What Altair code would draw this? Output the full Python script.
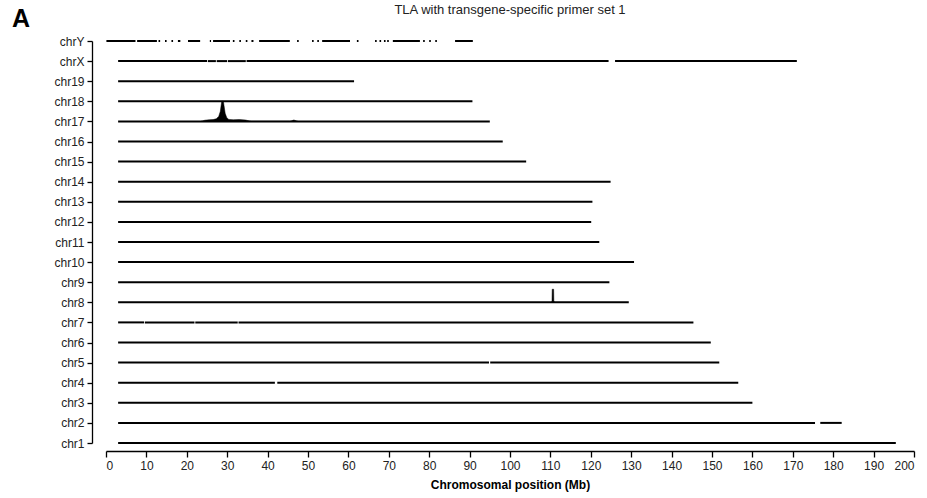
import altair as alt
import pandas as pd

# Chromosomes, bottom (index 0) to top
chrom_names = ["chr1", "chr2", "chr3", "chr4", "chr5", "chr6", "chr7", "chr8", "chr9", "chr10",
               "chr11", "chr12", "chr13", "chr14", "chr15", "chr16", "chr17", "chr18", "chr19", "chrX", "chrY"]
chrom_start = [3.0] * 20 + [0.1]
chrom_end = [195.5, 182.1, 160.0, 156.5, 151.8, 149.7, 145.4, 129.4, 124.6, 130.7,
             122.1, 120.1, 120.4, 124.9, 104.0, 98.2, 95.0, 90.7, 61.4, 171.0, 90.8]

# Visible coverage gaps (Mb) per chromosome
gaps = {
    "chr2": [(175.5, 176.8)],
    "chr4": [(41.8, 42.4)],
    "chr5": [(94.8, 95.1)],
    "chr7": [(9.4, 9.6), (21.9, 22.1), (32.6, 32.8)],
    "chrX": [(25.0, 25.2), (27.2, 27.4), (30.0, 30.2), (34.6, 34.8), (124.4, 126.0)],
}

# chrY is only sparsely covered: covered stretches (Mb)
chrY_starts = [0.1, 7.7, 13.0, 14.6, 16.2, 17.8, 20.3, 25.7, 26.5, 31.4, 33.0, 34.6, 36.0,
               37.9, 47.3, 51.0, 52.3, 53.5, 62.1, 66.6, 67.7, 68.8, 69.6, 71.0, 78.5, 80.0, 81.5, 86.4]
chrY_ends = [7.3, 12.6, 13.4, 15.0, 16.6, 18.4, 23.3, 26.0, 30.7, 31.8, 33.4, 35.0, 36.5,
             45.5, 47.7, 51.4, 52.7, 60.4, 62.5, 67.0, 68.1, 69.2, 70.0, 77.7, 78.9, 80.4, 81.9, 90.8]

# TLA signal peaks (height in row units)
chr17_pos = [23.5, 24.5, 25.5, 26.5, 27.3, 27.9, 28.3, 28.5, 28.65, 29.05, 29.2, 29.5, 29.9, 30.4,
             31.5, 33.0, 34.5, 36.0, 45.5, 46.5, 47.5]
chr17_val = [0.0, 0.06, 0.08, 0.09, 0.13, 0.25, 0.5, 0.8, 1.0, 1.0, 0.8, 0.4, 0.18, 0.1,
             0.08, 0.09, 0.07, 0.0, 0.0, 0.07, 0.0]
chr8_pos = [110.2, 110.4, 110.45, 110.8, 110.85, 111.1]
chr8_val = [0.0, 0.05, 0.65, 0.65, 0.05, 0.0]

rows = []
for i, name in enumerate(chrom_names):
    if name == "chrY":
        for s, e in zip(chrY_starts, chrY_ends):
            rows.append({"idx": i, "start": s, "end": e})
        continue
    cur = chrom_start[i]
    for gs, ge in gaps.get(name, []):
        rows.append({"idx": i, "start": cur, "end": gs})
        cur = ge
    rows.append({"idx": i, "start": cur, "end": chrom_end[i]})
seg_df = pd.DataFrame(rows)

peak_rows = []
for p, v in zip(chr17_pos, chr17_val):
    peak_rows.append({"series": "chr17", "pos": p, "y": 16 + v, "base": 16})
for p, v in zip(chr8_pos, chr8_val):
    peak_rows.append({"series": "chr8", "pos": p, "y": 7 + v, "base": 7})
peak_df = pd.DataFrame(peak_rows)

FONT = "Liberation Sans"
label_expr = "[" + ",".join(f"'{n}'" for n in chrom_names) + "][datum.value]"

xscale = alt.Scale(domain=[0, 200], nice=False, zero=False)
yscale = alt.Scale(domain=[0, 20], nice=False, zero=False)

xaxis = alt.Axis(values=list(range(0, 201, 10)), title="Chromosomal position (Mb)", grid=False,
                 offset=8, tickSize=6, tickColor="black", domainColor="black", tickWidth=1.3,
                 domainWidth=1.3, labelFont=FONT, labelFontSize=12, labelColor="#222",
                 labelPadding=3, labelOverlap=False, titleFont=FONT, titleFontSize=12,
                 titleFontWeight="bold", titleColor="black", titlePadding=8)
yaxis = alt.Axis(values=list(range(0, 21)), labelExpr=label_expr, title=None, grid=False,
                 offset=14, tickSize=5, tickColor="black", domainColor="black", tickWidth=1.3,
                 domainWidth=1.3, labelFont=FONT, labelFontSize=12, labelColor="#222",
                 labelPadding=3, labelOverlap=False, labelBound=False, labelFlush=False)

segs = alt.Chart(seg_df).mark_rule(color="black", strokeWidth=2).encode(
    x=alt.X("start:Q", scale=xscale, axis=xaxis),
    x2="end:Q",
    y=alt.Y("idx:Q", scale=yscale, axis=yaxis),
)

peaks = alt.Chart(peak_df).mark_area(color="black", interpolate="linear", stroke="black",
                                     strokeWidth=0.5).encode(
    x=alt.X("pos:Q", scale=xscale, axis=xaxis),
    y=alt.Y("y:Q", scale=yscale, axis=yaxis),
    y2="base:Q",
    detail="series:N",
)

panel = alt.Chart(pd.DataFrame({"t": ["A"]})).mark_text(
    font=FONT, fontSize=25, fontWeight="bold", align="left", baseline="alphabetic", color="black"
).encode(x=alt.value(-94), y=alt.value(-14), text="t:N")

chart = alt.layer(segs, peaks, panel).properties(
    width=808, height=402,
    autosize=alt.AutoSizeParams(type="none"),
    padding={"left": 106, "top": 41, "right": 13, "bottom": 55},
    title=alt.TitleParams("TLA with transgene-specific primer set 1", font=FONT, fontSize=13,
                          fontWeight="normal", color="#222", anchor="middle", offset=4, dy=14),
).configure(background="white").configure_view(strokeWidth=0, stroke=None)

chart.save("out.html", embed_options={"renderer": "svg", "actions": False})
